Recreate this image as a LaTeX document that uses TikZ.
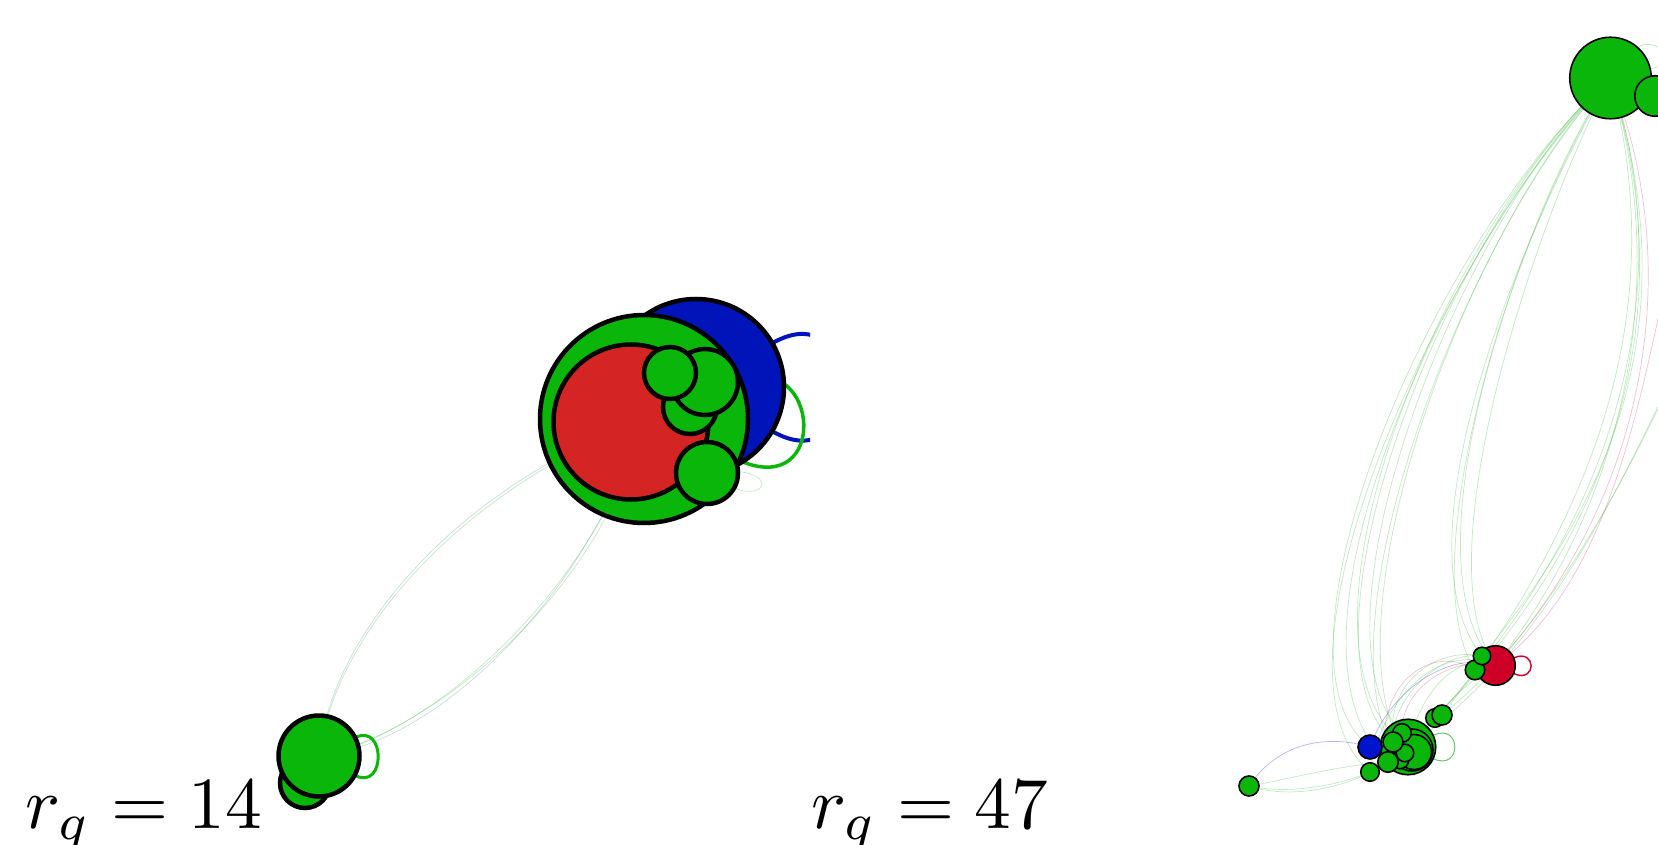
\documentclass[tikz,border=0pt]{standalone}
\usetikzlibrary{backgrounds}
\definecolor{gfill}{RGB}{10,182,10}
\definecolor{lred}{RGB}{212,36,36}
\definecolor{lblue}{RGB}{0,20,185}
\definecolor{rred}{RGB}{205,0,40}
\definecolor{rblue}{RGB}{0,20,205}
\definecolor{egreen}{RGB}{40,175,40}
\definecolor{epink}{RGB}{220,50,90}
\definecolor{egrey}{RGB}{110,160,170}
\tikzset{
  nd/.style={circle, inner sep=0pt, outer sep=0pt, draw=black},
  bignd/.style={nd, line width=4.5pt},
  smnd/.style={nd, line width=1.6pt},
  fe/.style={draw=egreen, line width=0.7pt, opacity=0.28},
  fepink/.style={draw=epink, line width=0.7pt, opacity=0.3},
  feblue/.style={draw=rblue, line width=0.7pt, opacity=0.3},
  fegrey/.style={draw=egrey, line width=0.8pt, opacity=0.35},
  lbl/.style={anchor=base west, inner sep=0pt, scale=7.34}
}
\begin{document}
\begin{tikzpicture}[x=1pt,y=-1pt]
\useasboundingbox (0,0) rectangle (1658,845);
% ---------- left graph ----------
\begin{scope}
\clip (0,0) rectangle (810,845);
\node[bignd, fill=lblue, minimum size=176pt] (lblu) at (696,387) {};
\node[bignd, fill=gfill, minimum size=208pt] (lg) at (644,419) {};
\node[bignd, fill=lred, minimum size=155pt] (lr) at (631,422) {};
\node[bignd, fill=gfill, minimum size=54pt] (lc) at (690,407) {};
\node[bignd, fill=gfill, minimum size=66pt] (lbb) at (705,382) {};
\node[bignd, fill=gfill, minimum size=52pt] (la) at (670,373) {};
\node[bignd, fill=gfill, minimum size=62pt] (ld) at (707,473) {};
\node[bignd, fill=gfill, minimum size=50pt] (lbs) at (305,783) {};
\node[bignd, fill=gfill, minimum size=81pt] (lbn) at (319,756) {};
\end{scope}
\begin{scope}[on background layer]
\begin{scope}
\clip (0,0) rectangle (810,845);
\draw[lblue, line width=4pt] (lblu) .. controls (865,290) and (865,485) .. (lblu);
\draw[gfill, line width=3.5pt] (lg) .. controls (830,500) and (820,350) .. (lg);
\draw[gfill, line width=3pt] (lbn) .. controls (386,722) and (386,792) .. (lbn);
\draw[fegrey] (lbn.center) .. controls (330,640) and (450,490) .. (lg.center);
\draw[fe] (lbn.center) .. controls (335,635) and (455,495) .. (lg.center);
\draw[fe] (lbn.center) .. controls (420,740) and (590,600) .. (lg.center);
\draw[fe] (lbn.center) .. controls (425,735) and (600,600) .. (lg.center);
\draw[fegrey] (lbn.center) .. controls (430,745) and (580,610) .. (lg.center);
\draw[fe] (ld.center) .. controls (770,520) and (790,460) .. (ld.center);
\end{scope}
\end{scope}
% ---------- right graph ----------
\node[smnd, fill=gfill, minimum size=81.5pt] (tg) at (1610.5,78) {};
\node[smnd, fill=gfill, minimum size=40.5pt] (tg2) at (1655,96) {};
\node[smnd, fill=rred, minimum size=39.5pt] (rr) at (1495.5,665.5) {};
\node[smnd, fill=gfill, minimum size=19.5pt] (rg2) at (1475,670) {};
\node[smnd, fill=gfill, minimum size=17.5pt] (rg1) at (1482,656) {};
\node[smnd, fill=gfill, minimum size=55.5pt] (cg) at (1408,747) {};
\node[smnd, fill=gfill, minimum size=42pt] (cr1) at (1412,750) {};
\node[smnd, fill=gfill, minimum size=35pt] (cr2) at (1414,752) {};
\node[smnd, fill=rblue, minimum size=24pt] (bn) at (1370,747) {};
\node[smnd, fill=gfill, minimum size=18.5pt] (s1) at (1435,718) {};
\node[smnd, fill=gfill, minimum size=20pt] (s2) at (1442,715) {};
\node[smnd, fill=gfill, minimum size=17.5pt] (s6) at (1400,760) {};
\node[smnd, fill=gfill, minimum size=17.5pt] (s5) at (1405,753) {};
\node[smnd, fill=gfill, minimum size=18.5pt] (s3) at (1402,733) {};
\node[smnd, fill=gfill, minimum size=20pt] (s4) at (1393,742) {};
\node[smnd, fill=gfill, minimum size=18.5pt] (s8) at (1370,772) {};
\node[smnd, fill=gfill, minimum size=20.5pt] (s7) at (1388,762) {};
\node[smnd, fill=gfill, minimum size=20pt] (iso) at (1249,786) {};
\coordinate (offa) at (1700,140);
\coordinate (offb) at (1700,320);
\begin{scope}[on background layer]
% loops
\draw[draw=rred, line width=1.4pt] (rr) .. controls (1537,648) and (1537,684) .. (rr);
\draw[draw=egreen, line width=1pt, opacity=0.7] (cg) .. controls (1462,722) and (1462,772) .. (cg);
\draw[fe] (tg) .. controls (1650,35) and (1690,60) .. (tg);
% top -> cluster, bulging left
\draw[fe] (tg.center) .. controls (1440,230) and (1270,650) .. (cg.center);
\draw[fe] (tg.center) .. controls (1450,220) and (1285,640) .. (s4.center);
\draw[fe] (tg.center) .. controls (1445,240) and (1262,650) .. (s7.center);
\draw[fe] (tg.center) .. controls (1460,215) and (1300,630) .. (s3.center);
\draw[fe] (tg.center) .. controls (1430,240) and (1255,660) .. (bn.center);
\draw[fe] (tg.center) .. controls (1440,250) and (1250,670) .. (s8.center);
\draw[fe] (tg.center) .. controls (1470,220) and (1320,620) .. (s5.center);
\draw[fe] (tg.center) .. controls (1465,230) and (1310,640) .. (s6.center);
% top -> red, bulging left
\draw[fe] (tg.center) .. controls (1520,220) and (1400,560) .. (rr.center);
\draw[fe] (tg.center) .. controls (1530,215) and (1390,540) .. (rg1.center);
\draw[fe] (tg.center) .. controls (1510,230) and (1410,570) .. (rg2.center);
\draw[fe] (tg.center) .. controls (1540,210) and (1420,560) .. (rr.center);
% top -> red / cluster, bulging right
\draw[fe] (tg.center) .. controls (1665,260) and (1640,480) .. (rr.center);
\draw[fe] (tg.center) .. controls (1670,250) and (1650,500) .. (cg.center);
\draw[fe] (tg.center) .. controls (1660,270) and (1630,470) .. (s2.center);
\draw[fe] (tg.center) .. controls (1675,280) and (1645,460) .. (rg1.center);
\draw[fe] (tg.center) .. controls (1668,265) and (1655,490) .. (s1.center);
\draw[fepink] (tg.center) .. controls (1680,250) and (1660,480) .. (rr.center);
% off-page -> red / cluster
\draw[fepink] (offa) .. controls (1650,300) and (1640,560) .. (rr.center);
\draw[fe] (offb) .. controls (1640,450) and (1560,620) .. (s2.center);
\draw[fe] (offb) .. controls (1630,460) and (1560,640) .. (cg.center);
% cluster <-> red
\draw[fe] (cg.center) .. controls (1420,690) and (1460,650) .. (rr.center);
\draw[fe] (s8.center) .. controls (1380,700) and (1440,640) .. (rr.center);
\draw[fepink] (s7.center) .. controls (1370,690) and (1430,640) .. (rg2.center);
\draw[feblue] (bn.center) .. controls (1390,690) and (1450,650) .. (rr.center);
\draw[fe] (s4.center) .. controls (1390,700) and (1440,650) .. (rg1.center);
\draw[fepink] (s3.center) .. controls (1400,690) and (1450,655) .. (rr.center);
\draw[fe] (s1.center) .. controls (1450,700) and (1470,680) .. (rr.center);
\draw[fe] (s6.center) .. controls (1372,695) and (1430,645) .. (rg1.center);
% isolated node <-> cluster
\draw[feblue] (iso.center) .. controls (1280,740) and (1330,735) .. (bn.center);
\draw[fe] (iso.center) .. controls (1290,800) and (1360,790) .. (cg.center);
\draw[fe] (iso.center) .. controls (1285,780) and (1340,765) .. (s7.center);
\draw[fe] (iso.center) .. controls (1290,795) and (1340,785) .. (s8.center);
\end{scope}
% ---------- labels ----------
\node[lbl] (lab1) at (24,828) {$r_q = 14$};
\node[lbl] (lab2) at (810,828) {$r_q = 47$};
\end{tikzpicture}
\end{document}
